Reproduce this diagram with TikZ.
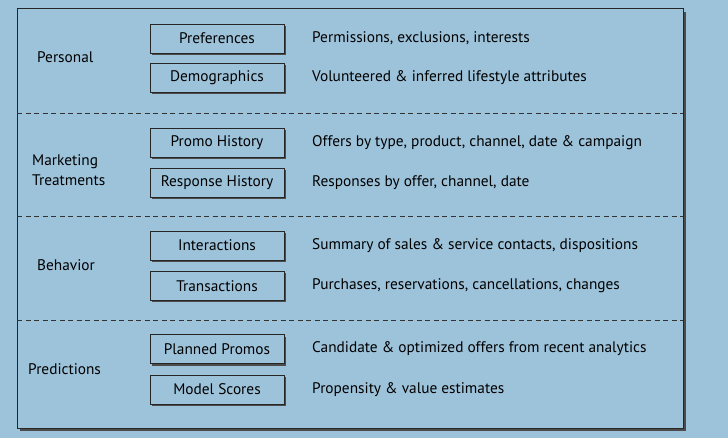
\documentclass[tikz,border=0pt]{standalone}
\usepackage{fontspec}
\setmainfont{PT Sans}
\begin{document}
\begin{tikzpicture}[x=1bp,y=-1bp,
  item/.style={draw=black!85, line width=0.8bp, fill=skyblue, minimum width=134bp,
    minimum height=29bp, inner sep=0pt, font=\fontsize{15.4}{20}\selectfont},
  desc/.style={anchor=west, inner sep=0pt, font=\fontsize{15.4}{20}\selectfont},
  group/.style={anchor=west, inner sep=0pt, align=left, font=\fontsize{15.4}{20}\selectfont},
  sep/.style={draw=black!80, line width=0.8bp, dash pattern=on 5bp off 3.5bp}]
\definecolor{skyblue}{RGB}{157,195,219}
% backdrop
\fill[skyblue] (0,0) rectangle (728,438);
\useasboundingbox (0,0) rectangle (728,438);
% outer frame with its shadow
\fill[black!70] (20,12) rectangle (686,431);
\draw[line width=0.9bp, draw=black!85, fill=skyblue] (17,8) rectangle (683,428);
% section separators
\coordinate (s1l) at (17,113); \coordinate (s1r) at (683,113);
\coordinate (s2l) at (17,216); \coordinate (s2r) at (683,216);
\coordinate (s3l) at (17,320); \coordinate (s3r) at (683,320);
\draw[sep] (s1l) -- (s1r);
\draw[sep] (s2l) -- (s2r);
\draw[sep] (s3l) -- (s3r);
% shadows behind the item boxes
\foreach \yc in {38.5,77.5,142.5,183,245.5,286,349,389.5}
  \fill[black!70] (152,\yc-12.5) rectangle (286,\yc+16.5);
% item boxes
\node[item] (pref) at (217,38.5) {Preferences};
\node[item] (demo) at (217,77.5) {Demographics};
\node[item] (promo) at (217,142.5) {Promo History};
\node[item] (resp) at (217,183) {Response History};
\node[item] (inter) at (217,245.5) {Interactions};
\node[item] (trans) at (217,286) {Transactions};
\node[item] (plan) at (217,349) {Planned Promos};
\node[item] (model) at (217,389.5) {Model Scores};
% descriptions
\node[desc] (dpref) at (312,38.5) {Permissions, exclusions, interests};
\node[desc] (ddemo) at (312,77.5) {Volunteered \& inferred lifestyle attributes};
\node[desc] (dpromo) at (312,142.5) {Offers by type, product, channel, date \& campaign};
\node[desc] (dresp) at (312,183) {Responses by offer, channel, date};
\node[desc] (dinter) at (312,245.5) {Summary of sales \& service contacts, dispositions};
\node[desc] (dtrans) at (312,286) {Purchases, reservations, cancellations, changes};
\node[desc] (dplan) at (312,349) {Candidate \& optimized offers from recent analytics};
\node[desc] (dmodel) at (312,389.5) {Propensity \& value estimates};
% group labels
\node[group] (gpers) at (37,57.5) {Personal};
\node[group] (gmark) at (32,170) {Marketing\\Treatments};
\node[group] (gbeh) at (37,265.5) {Behavior};
\node[group] (gpred) at (28,369) {Predictions};
\end{tikzpicture}
\end{document}
